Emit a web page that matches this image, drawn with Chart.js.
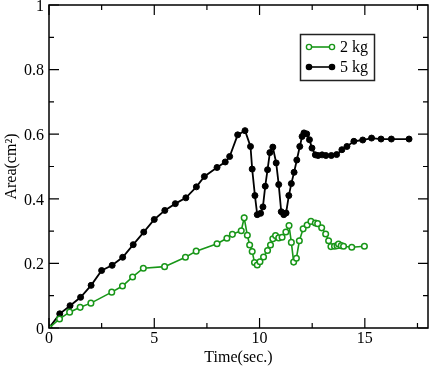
<!DOCTYPE html>
<html><head><meta charset="utf-8">
<script src="https://cdn.jsdelivr.net/npm/chart.js@4.4.1/dist/chart.umd.min.js"></script>
<style>html,body{margin:0;padding:0;background:#fff}#wrap{width:431px;height:367px}</style>
</head><body><div id="wrap"><canvas id="c" width="431" height="367"></canvas></div>
<script>
const seriesNames = ["2 kg", "5 kg"];
const time2kg = [0,0.5,0.98,1.48,1.99,2.98,3.49,3.97,4.48,5.49,6.48,6.99,7.98,8.45,8.71,9.13,9.27,9.42,9.53,9.65,9.76,9.89,10.02,10.19,10.38,10.52,10.63,10.76,10.91,11.07,11.25,11.4,11.51,11.62,11.75,11.89,12.07,12.26,12.44,12.65,12.76,12.95,13.14,13.28,13.39,13.56,13.68,13.75,13.88,13.99,14.38,14.98];
const area2kg = [0,0.028,0.049,0.064,0.077,0.111,0.13,0.158,0.185,0.19,0.219,0.238,0.261,0.278,0.29,0.301,0.341,0.287,0.257,0.237,0.203,0.195,0.205,0.22,0.24,0.257,0.276,0.286,0.279,0.281,0.297,0.317,0.265,0.204,0.216,0.27,0.307,0.319,0.33,0.325,0.323,0.31,0.291,0.27,0.252,0.253,0.255,0.26,0.255,0.253,0.25,0.253];
const time5kg = [0,0.51,1.0,1.5,2.0,2.5,3.0,3.5,4.0,4.5,5.0,5.5,6.0,6.5,7.0,7.38,7.98,8.37,8.58,8.96,9.31,9.57,9.65,9.78,9.89,10.05,10.16,10.27,10.38,10.49,10.63,10.79,10.91,11.03,11.15,11.26,11.39,11.51,11.64,11.77,11.91,12.02,12.11,12.24,12.37,12.49,12.65,12.78,12.97,13.15,13.41,13.66,13.91,14.15,14.48,14.9,15.32,15.77,16.26,17.1];
const area5kg = [0,0.044,0.069,0.095,0.132,0.178,0.194,0.219,0.258,0.297,0.336,0.364,0.385,0.403,0.437,0.469,0.497,0.514,0.531,0.598,0.611,0.562,0.492,0.41,0.351,0.355,0.375,0.439,0.49,0.543,0.56,0.511,0.444,0.36,0.351,0.356,0.41,0.447,0.482,0.52,0.562,0.593,0.604,0.601,0.583,0.557,0.536,0.534,0.536,0.534,0.534,0.537,0.552,0.562,0.578,0.582,0.588,0.585,0.585,0.585];
const xTickValues = [0,5,10,15];
const xTickLabels = ["0","5","10","15"];
const yTickValues = [0,0.2,0.4,0.6,0.8,1];
const yTickLabels = ["0","0.2","0.4","0.6","0.8","1"];
const xMinorTicks = [2.5,7.5,12.5,17.5];
const yMinorTicks = [0.1,0.3,0.5,0.7,0.9];
const xTitle = "Time(sec.)";
const yTitle = "Area(cm\u00B2)";

const GREEN = "rgb(24,150,24)";
const FONT = "'Liberation Serif', 'DejaVu Serif', serif";

const frameTicks = {
  id: 'frameTicks',
  afterDatasetsDraw(chart) {
    const ctx = chart.ctx, a = chart.chartArea;
    const xs = chart.scales.x, ys = chart.scales.y;
    ctx.save();
    ctx.strokeStyle = '#000';
    ctx.lineWidth = 1.5;
    ctx.strokeRect(a.left, a.top, a.right - a.left, a.bottom - a.top);
    ctx.lineWidth = 1.2;
    ctx.beginPath();
    const tk = (v, len, isX) => {
      if (isX) {
        const p = xs.getPixelForValue(v);
        ctx.moveTo(p, a.bottom); ctx.lineTo(p, a.bottom - len);
        ctx.moveTo(p, a.top); ctx.lineTo(p, a.top + len);
      } else {
        const p = ys.getPixelForValue(v);
        ctx.moveTo(a.left, p); ctx.lineTo(a.left + len, p);
        ctx.moveTo(a.right, p); ctx.lineTo(a.right - len, p);
      }
    };
    xTickValues.forEach(v => tk(v, 10, true));
    xMinorTicks.forEach(v => tk(v, 5, true));
    yTickValues.forEach(v => tk(v, 10, false));
    yMinorTicks.forEach(v => tk(v, 5, false));
    ctx.stroke();

    // legend
    const bx = 300.5, by = 34.5, bw = 74, bh = 46;
    ctx.fillStyle = '#fff';
    ctx.fillRect(bx, by, bw, bh);
    ctx.strokeStyle = '#222';
    ctx.lineWidth = 1.5;
    ctx.strokeRect(bx, by, bw, bh);
    chart.data.datasets.forEach((ds, i) => {
      const y = 47 + i * 20;
      ctx.strokeStyle = ds.borderColor;
      ctx.lineWidth = 1.6;
      ctx.beginPath(); ctx.moveTo(309, y); ctx.lineTo(332, y); ctx.stroke();
      [309, 332].forEach(x => {
        ctx.beginPath(); ctx.arc(x, y, 2.6, 0, Math.PI * 2);
        ctx.fillStyle = ds.pointBackgroundColor;
        ctx.fill();
        ctx.lineWidth = 1.4; ctx.strokeStyle = ds.pointBorderColor; ctx.stroke();
      });
      ctx.fillStyle = '#000';
      ctx.font = "16px " + FONT;
      ctx.textBaseline = 'middle';
      ctx.textAlign = 'left';
      ctx.fillText(ds.label, 340, y + 1);
    });
    ctx.restore();
  }
};

const toPts = (xs, ys) => xs.map((x, i) => ({x: x, y: ys[i]}));

new Chart(document.getElementById('c'), {
  type: 'line',
  data: {
    datasets: [
      {label: seriesNames[0], data: toPts(time2kg, area2kg), borderColor: GREEN, borderWidth: 1.6,
       pointRadius: 2.8, pointBackgroundColor: '#fff', pointBorderColor: GREEN, pointBorderWidth: 1.5, tension: 0, fill: false},
      {label: seriesNames[1], data: toPts(time5kg, area5kg), borderColor: '#000', borderWidth: 1.8,
       pointRadius: 3, pointBackgroundColor: '#000', pointBorderColor: '#000', pointBorderWidth: 1, tension: 0, fill: false}
    ]
  },
  options: {
    responsive: false, animation: false, devicePixelRatio: 1,
    layout: {autoPadding: false, padding: {top: 5, right: 3, left: 0, bottom: 0}},
    plugins: {legend: {display: false}, tooltip: {enabled: false}},
    scales: {
      x: {
        type: 'linear', min: 0, max: 18,
        afterBuildTicks: s => { s.ticks = xTickValues.map(v => ({value: v})); },
        afterFit: s => { s.height = 39; s.paddingLeft = 0; s.paddingRight = 0; },
        grid: {display: false, drawTicks: false}, border: {display: false},
        ticks: {padding: 1, color: '#000', font: {family: FONT, size: 16, lineHeight: 1.2}, maxRotation: 0,
                callback: (v) => { const i = xTickValues.indexOf(v); return i >= 0 ? xTickLabels[i] : ''; }},
        title: {display: true, text: xTitle, color: '#000', font: {family: FONT, size: 16}, padding: {top: 0, bottom: 0}}
      },
      y: {
        type: 'linear', min: 0, max: 1,
        afterBuildTicks: s => { s.ticks = yTickValues.map(v => ({value: v})); },
        afterFit: s => { s.width = 49; s.paddingTop = 0; s.paddingBottom = 0; },
        grid: {display: false, drawTicks: false}, border: {display: false},
        ticks: {padding: 5, labelOffset: 1.5, color: '#000', font: {family: FONT, size: 16, lineHeight: 1.2},
                callback: (v) => { const i = yTickValues.findIndex(t => Math.abs(t - v) < 1e-9); return i >= 0 ? yTickLabels[i] : ''; }},
        title: {display: true, text: yTitle, color: '#000', font: {family: FONT, size: 16}, padding: {top: 2, bottom: 0}}
      }
    }
  },
  plugins: [frameTicks]
});
</script>
</body></html>
